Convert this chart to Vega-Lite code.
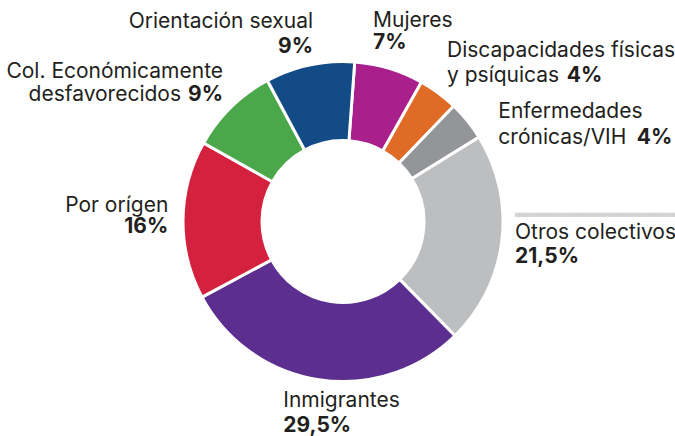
{
  "$schema": "https://vega.github.io/schema/vega-lite/v6.json",
  "autosize": {"type": "none"},
  "width": 650,
  "height": 429,
  "padding": {"left": 18, "top": 7, "right": 7, "bottom": 0},
  "background": "white",
  "config": {
    "view": {"stroke": null},
    "text": {"font": "Inter", "fontSize": 21, "fill": "#231f20", "baseline": "alphabetic", "radius": 160}
  },
  "data": {
    "values": [
      {"grupo": "Mujeres", "valor": 7, "orden": 1, "l1": "Mujeres", "l2": "", "pct_txt": "7%"},
      {"grupo": "Discapacidades físicas y psíquicas", "valor": 4, "orden": 2, "l1": "Discapacidades físicas", "l2": "y psíquicas", "pct_txt": "4%"},
      {"grupo": "Enfermedades crónicas/VIH", "valor": 4, "orden": 3, "l1": "Enfermedades", "l2": "crónicas/VIH", "pct_txt": "4%"},
      {"grupo": "Otros colectivos", "valor": 21.5, "orden": 4, "l1": "Otros colectivos", "l2": "", "pct_txt": "21,5%"},
      {"grupo": "Inmigrantes", "valor": 29.5, "orden": 5, "l1": "Inmigrantes", "l2": "", "pct_txt": "29,5%"},
      {"grupo": "Por orígen", "valor": 16, "orden": 6, "l1": "Por orígen", "l2": "", "pct_txt": "16%"},
      {"grupo": "Col. Económicamente desfavorecidos", "valor": 9, "orden": 7, "l1": "Col. Económicamente", "l2": "desfavorecidos", "pct_txt": "9%"},
      {"grupo": "Orientación sexual", "valor": 9, "orden": 8, "l1": "Orientación sexual", "l2": "", "pct_txt": "9%"}
    ]
  },
  "encoding": {
    "theta": {"field": "valor", "type": "quantitative", "stack": true, "scale": {"range": [0.0733, 6.3565]}},
    "order": {"field": "orden", "type": "quantitative"}
  },
  "layer": [
    {
      "mark": {"type": "arc", "outerRadius": 160, "innerRadius": 81, "stroke": "white", "strokeWidth": 3},
      "encoding": {
        "color": {
          "field": "grupo", "type": "nominal", "legend": null,
          "scale": {
            "domain": ["Mujeres", "Discapacidades físicas y psíquicas", "Enfermedades crónicas/VIH", "Otros colectivos", "Inmigrantes", "Por orígen", "Col. Económicamente desfavorecidos", "Orientación sexual"],
            "range": ["#a91f8c", "#e06b26", "#939598", "#bcbec0", "#5b2e90", "#d4213d", "#4aa74a", "#134b87"]
          }
        }
      }
    },
    {"mark": {"type": "text", "align": "left", "dx": -16.2, "dy": -41.3},
     "encoding": {"text": {"field": "l1", "type": "nominal", "condition": {"test": "datum.orden !== 1", "value": ""}}}},
    {"mark": {"type": "text", "align": "left", "dx": -16.2, "dy": -19.3, "fontWeight": "bold"},
     "encoding": {"text": {"field": "pct_txt", "type": "nominal", "condition": {"test": "datum.orden !== 1", "value": ""}}}},

    {"mark": {"type": "text", "align": "left", "dx": 8.6, "dy": -36.3},
     "encoding": {"text": {"field": "l1", "type": "nominal", "condition": {"test": "datum.orden !== 2", "value": ""}}}},
    {"mark": {"type": "text", "align": "left", "dx": 8.6, "dy": -11.3},
     "encoding": {"text": {"field": "l2", "type": "nominal", "condition": {"test": "datum.orden !== 2", "value": ""}}}},
    {"mark": {"type": "text", "align": "left", "dx": 128.3, "dy": -11.3, "fontWeight": "bold"},
     "encoding": {"text": {"field": "pct_txt", "type": "nominal", "condition": {"test": "datum.orden !== 2", "value": ""}}}},

    {"mark": {"type": "text", "align": "left", "dx": 31, "dy": -2.5},
     "encoding": {"text": {"field": "l1", "type": "nominal", "condition": {"test": "datum.orden !== 3", "value": ""}}}},
    {"mark": {"type": "text", "align": "left", "dx": 31, "dy": 23.2},
     "encoding": {"text": {"field": "l2", "type": "nominal", "condition": {"test": "datum.orden !== 3", "value": ""}}}},
    {"mark": {"type": "text", "align": "left", "dx": 169.4, "dy": 23.2, "fontWeight": "bold"},
     "encoding": {"text": {"field": "pct_txt", "type": "nominal", "condition": {"test": "datum.orden !== 3", "value": ""}}}},

    {"mark": {"type": "text", "align": "left", "dx": 13.2, "dy": -25.4, "baseline": "middle", "font": "DejaVu Sans", "fontSize": 3.5, "fill": "#d1d2d4"},
     "encoding": {"text": {"condition": {"test": "datum.orden === 4", "value": "███████████████████████████████████████████████████████████████████████████"}, "value": ""}}},
    {"mark": {"type": "text", "align": "left", "dx": 13.2, "dy": -1.4},
     "encoding": {"text": {"field": "l1", "type": "nominal", "condition": {"test": "datum.orden !== 4", "value": ""}}}},
    {"mark": {"type": "text", "align": "left", "dx": 13.2, "dy": 22.6, "fontWeight": "bold"},
     "encoding": {"text": {"field": "pct_txt", "type": "nominal", "condition": {"test": "datum.orden !== 4", "value": ""}}}},

    {"mark": {"type": "text", "align": "left", "dx": -35.5, "dy": 27},
     "encoding": {"text": {"field": "l1", "type": "nominal", "condition": {"test": "datum.orden !== 5", "value": ""}}}},
    {"mark": {"type": "text", "align": "left", "dx": -35.5, "dy": 52.5, "fontWeight": "bold"},
     "encoding": {"text": {"field": "pct_txt", "type": "nominal", "condition": {"test": "datum.orden !== 5", "value": ""}}}},

    {"mark": {"type": "text", "align": "right", "dx": -14.7, "dy": -7.5},
     "encoding": {"text": {"field": "l1", "type": "nominal", "condition": {"test": "datum.orden !== 6", "value": ""}}}},
    {"mark": {"type": "text", "align": "right", "dx": -14.7, "dy": 13.5, "fontWeight": "bold"},
     "encoding": {"text": {"field": "pct_txt", "type": "nominal", "condition": {"test": "datum.orden !== 6", "value": ""}}}},

    {"mark": {"type": "text", "align": "right", "dx": -8, "dy": -29.2},
     "encoding": {"text": {"field": "l1", "type": "nominal", "condition": {"test": "datum.orden !== 7", "value": ""}}}},
    {"mark": {"type": "text", "align": "right", "dx": -50, "dy": -5.7},
     "encoding": {"text": {"field": "l2", "type": "nominal", "condition": {"test": "datum.orden !== 7", "value": ""}}}},
    {"mark": {"type": "text", "align": "right", "dx": -8, "dy": -5.7, "fontWeight": "bold"},
     "encoding": {"text": {"field": "pct_txt", "type": "nominal", "condition": {"test": "datum.orden !== 7", "value": ""}}}},

    {"mark": {"type": "text", "align": "right", "dx": 3.3, "dy": -37},
     "encoding": {"text": {"field": "l1", "type": "nominal", "condition": {"test": "datum.orden !== 8", "value": ""}}}},
    {"mark": {"type": "text", "align": "right", "dx": 3.3, "dy": -12, "fontWeight": "bold"},
     "encoding": {"text": {"field": "pct_txt", "type": "nominal", "condition": {"test": "datum.orden !== 8", "value": ""}}}}
  ]
}
